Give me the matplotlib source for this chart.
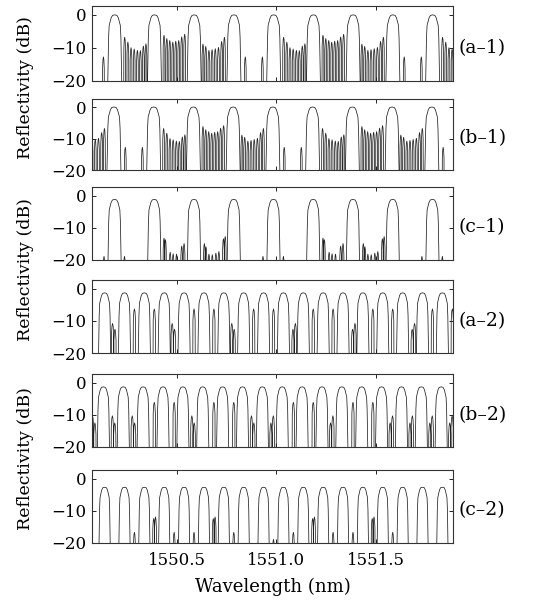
import matplotlib

matplotlib.use("Agg")
import matplotlib.pyplot as plt
import matplotlib.transforms as mtransforms
import numpy as np

plt.rcParams["font.family"] = ["DejaVu Serif"]
plt.rcParams["mathtext.fontset"] = "dejavuserif"

W, H = 533, 603
XLIM = (1550.07, 1551.89)
YLIM = (-20, 2.7)
NULL_DB = -45.0

PANEL_LABELS = ["(a–1)", "(b–1)", "(c–1)", "(a–2)", "(b–2)", "(c–2)"]
X_TICKS = [1550.5, 1551.0, 1551.5]
X_TICK_LABELS = ["1550.5", "1551.0", "1551.5"]
Y_TICKS = [-20, -10, 0]
Y_LABEL = "Reflectivity (dB)"
X_LABEL = "Wavelength (nm)"

# ---------------------------------------------------------------------------
# Spectra
# ---------------------------------------------------------------------------

# main channel centres (nm)
PEAKS_A1 = [1550.186, 1550.386, 1550.586, 1550.786, 1550.986,
            1551.186, 1551.386, 1551.586, 1551.786]
PEAKS_B1 = [1550.182, 1550.382, 1550.582, 1550.782, 1550.982,
            1551.182, 1551.382, 1551.582, 1551.782]
PEAKS_C1 = [1550.185, 1550.385, 1550.585, 1550.785, 1550.985,
            1551.185, 1551.385, 1551.585, 1551.785]
PEAKS_A2 = [1550.135, 1550.235, 1550.335, 1550.435, 1550.535, 1550.635,
            1550.735, 1550.835, 1550.935, 1551.035, 1551.135, 1551.235,
            1551.335, 1551.435, 1551.535, 1551.635, 1551.735, 1551.835]
PEAKS_B2 = [1550.129, 1550.229, 1550.329, 1550.429, 1550.529, 1550.629,
            1550.729, 1550.829, 1550.929, 1551.029, 1551.129, 1551.229,
            1551.329, 1551.429, 1551.529, 1551.629, 1551.729, 1551.829]
PEAKS_C2 = [1550.135, 1550.235, 1550.335, 1550.435, 1550.535, 1550.635,
            1550.735, 1550.835, 1550.935, 1551.035, 1551.135, 1551.235,
            1551.335, 1551.435, 1551.535, 1551.635, 1551.735, 1551.835]

# channel top level (dB) and relative channel width
PEAK_TOP = [0.0, 0.0, -1.2, -1.3, -1.3, -2.7]
PEAK_WIDTH = [1.0, 1.0, 0.95, 0.88, 0.88, 0.82]
LOBE_WIDTH = [1.0, 1.0, 1.0, 1.3, 1.3, 1.1]

# channel profile (offset nm, level dB relative to top)
PEAK_DX = [-0.040, -0.035, -0.031, -0.028, -0.024, -0.018, -0.011, 0.0,
           0.011, 0.018, 0.024, 0.028, 0.031, 0.035, 0.040]
PEAK_DB = [-45.0, -20.0, -7.0, -3.2, -2.3, -0.9, -0.15, 0.0,
           -0.15, -0.9, -2.3, -3.2, -7.0, -20.0, -45.0]

# side-lobe profile (offset nm, level dB relative to lobe top)
LOBE_DX = [-0.0058, -0.0042, -0.0022, 0.0, 0.0022, 0.0042, 0.0058]
LOBE_DB = [-40.0, -3.5, -0.8, 0.0, -0.8, -3.5, -40.0]

# side lobes inside each gap: offsets from the preceding channel (nm), levels (dB)
GAPS_1 = {
    "E": ([0.057, 0.143], [-12.8, -12.8]),
    "A": ([0.050, 0.066, 0.082, 0.098, 0.114, 0.129, 0.144, 0.157],
          [-6.8, -8.3, -10.0, -10.4, -10.8, -10.9, -9.5, -8.8]),
    "B": ([0.048, 0.062, 0.077, 0.092, 0.107, 0.122, 0.137, 0.152],
          [-6.2, -7.2, -7.8, -8.3, -8.0, -7.8, -6.7, -5.9]),
    "C": ([0.044, 0.058, 0.074, 0.090, 0.106, 0.122, 0.138, 0.152],
          [-8.9, -9.6, -10.8, -10.6, -10.3, -9.9, -8.1, -6.8]),
}
GAPS_C1 = {
    "L": ([0.050], [-19.0]),
    "R": ([0.147], [-19.0]),
    "F": ([0.049, 0.056, 0.080, 0.095, 0.112, 0.138, 0.150],
          [-13.3, -13.8, -17.7, -18.2, -18.3, -15.8, -15.0]),
    "G": ([0.052, 0.060, 0.075, 0.092, 0.110, 0.125, 0.148, 0.157],
          [-15.0, -16.0, -18.3, -18.5, -18.0, -17.5, -13.5, -12.8]),
}
GAPS_A2 = {
    "-": ([], []),
    "S": ([0.050], [-6.3]),
    "D": ([0.040, 0.052], [-10.8, -12.6]),
    "d": ([0.048, 0.060], [-12.6, -10.8]),
}
GAPS_B2 = {
    "-": ([], []),
    "S": ([0.056], [-6.1]),
    "D": ([0.045, 0.057], [-10.3, -12.5]),
    "d": ([0.043, 0.055], [-12.5, -10.3]),
}
GAPS_C2 = {
    "-": ([], []),
    "L": ([0.050], [-16.8]),
    "H": ([0.047, 0.056], [-12.5, -12.0]),
    "T": ([0.050], [-19.0]),
}

# gap types, first entry = gap before the first channel
SEQ_A1 = ["E", "A", "B", "C", "E", "A", "B", "C", "E", "A"]
SEQ_B1 = ["C", "E", "A", "B", "C", "E", "A", "B", "C", "E"]
SEQ_C1 = ["R", "L", "F", "G", "R", "L", "F", "G", "R", "L"]
SEQ_A2 = ["-", "D", "S", "S", "D", "S", "S", "D", "S", "S",
          "d", "S", "S", "d", "S", "S", "d", "S", "S"]
SEQ_B2 = ["D", "D", "D", "S", "S", "D", "S", "S", "D", "d",
          "S", "S", "d", "S", "S", "d", "d", "d", "d"]
SEQ_C2 = ["-", "-", "L", "H", "L", "L", "H", "L", "-", "T",
          "L", "H", "L", "L", "H", "L", "-", "-", "-"]

PANELS = [
    (PEAKS_A1, GAPS_1, SEQ_A1),
    (PEAKS_B1, GAPS_1, SEQ_B1),
    (PEAKS_C1, GAPS_C1, SEQ_C1),
    (PEAKS_A2, GAPS_A2, SEQ_A2),
    (PEAKS_B2, GAPS_B2, SEQ_B2),
    (PEAKS_C2, GAPS_C2, SEQ_C2),
]

# axes boxes in pixels: (top, bottom)
BOXES = [(6, 80.5), (98.5, 170), (187, 259.5), (280, 353), (374, 447), (470, 542.5)]
AX_LEFT, AX_RIGHT = 91.7, 453.3


def build_trace(peaks, gaps, seq, top, pw, lw):
    feats = []
    for c in peaks:
        feats.append((c + np.array(PEAK_DX) * pw, top + np.array(PEAK_DB)))
    anchors = [peaks[0] - (peaks[1] - peaks[0])] + list(peaks)
    for anchor, key in zip(anchors, seq):
        offs, levels = gaps[key]
        for off, lvl in zip(offs, levels):
            feats.append((anchor + off + np.array(LOBE_DX) * lw,
                          np.maximum(lvl + np.array(LOBE_DB), NULL_DB)))
    feats.sort(key=lambda f: f[0][0])
    x = np.concatenate([f[0] for f in feats])
    y = np.concatenate([f[1] for f in feats])
    return x, y


fig = plt.figure(figsize=(W / 100, H / 100), dpi=100)
for i, ((peaks, gaps, seq), (t, b)) in enumerate(zip(PANELS, BOXES)):
    ax = fig.add_axes([AX_LEFT / W, 1 - b / H, (AX_RIGHT - AX_LEFT) / W, (b - t) / H])
    x, y = build_trace(peaks, gaps, seq, PEAK_TOP[i], PEAK_WIDTH[i], LOBE_WIDTH[i])
    ax.plot(x, y, color="#202020", lw=0.55)
    ax.set_xlim(*XLIM)
    ax.set_ylim(*YLIM)
    ax.set_yticks(Y_TICKS)
    ax.set_xticks(X_TICKS)
    ax.tick_params(direction="in", length=3, width=0.6, top=True, right=True,
                   labelsize=12, pad=4)
    ax.tick_params(axis="x", pad=7)
    if i < 5:
        ax.set_xticklabels([])
    else:
        ax.set_xticklabels(X_TICK_LABELS)
    for sp in ax.spines.values():
        sp.set_linewidth(0.8)
        sp.set_color("#333333")
    trans = mtransforms.blended_transform_factory(ax.transAxes, ax.transData)
    ax.text(1.0 + 5 / (AX_RIGHT - AX_LEFT), -10, PANEL_LABELS[i], transform=trans,
            ha="left", va="center", fontsize=13.5)

for k in range(3):
    t = BOXES[2 * k][0]
    b = BOXES[2 * k + 1][1]
    fig.text(25 / W, 1 - (t + b) / 2 / H, Y_LABEL, rotation=90,
             ha="center", va="center", fontsize=12.5)

fig.text((AX_LEFT + AX_RIGHT) / 2 / W, 1 - 587 / H, X_LABEL,
         ha="center", va="center", fontsize=13)

fig.savefig("out.png", dpi=100)
